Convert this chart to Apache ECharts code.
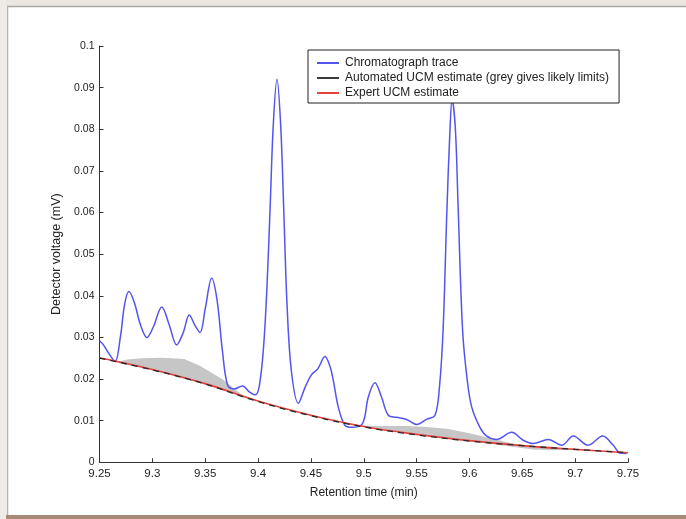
<!DOCTYPE html>
<html>
<head>
<meta charset="utf-8">
<script src="https://cdn.jsdelivr.net/npm/echarts@6/dist/echarts.min.js"></script>
<style>
html,body{margin:0;padding:0;background:#fff;}
#chart{width:686px;height:519px;}
</style>
</head>
<body>
<div id="chart"></div>
<script>
// ---- data ----
const seriesNames = ['Chromatograph trace', 'Automated UCM estimate (grey gives likely limits)', 'Expert UCM estimate'];
const xAxisTitle = 'Retention time (min)';
const yAxisTitle = 'Detector voltage (mV)';

// Chromatograph trace: [retention time, detector voltage]
const traceTime = [9.250,9.2537,9.2597,9.2647,9.2697,9.2738,9.2778,9.2828,9.2888,9.2949,9.3009,9.3089,9.3160,9.3230,9.3290,9.3350,9.3401,9.3451,9.3501,9.3561,9.3612,9.3662,9.3712,9.3772,9.3853,9.3923,9.3973,9.4013,9.4053,9.4084,9.4114,9.4144,9.4179,9.4214,9.4244,9.4274,9.4315,9.4381,9.4445,9.4505,9.4566,9.4633,9.4681,9.4711,9.4759,9.4821,9.4885,9.4988,9.5043,9.5106,9.5168,9.5232,9.5309,9.5406,9.5500,9.5594,9.5674,9.5716,9.5751,9.5786,9.5816,9.5836,9.5867,9.5892,9.5935,9.5978,9.6021,9.6099,9.6163,9.6257,9.6399,9.6509,9.6603,9.6746,9.6873,9.6982,9.7123,9.7260,9.7361,9.7424,9.7487];
const traceVolt = [0.0292,0.0282,0.0258,0.0242,0.0300,0.0380,0.0410,0.0385,0.0330,0.0300,0.0325,0.0373,0.0330,0.0282,0.0310,0.0354,0.0330,0.0312,0.0370,0.0442,0.0390,0.0270,0.0185,0.0176,0.0183,0.0168,0.0162,0.0185,0.0280,0.0420,0.0610,0.0810,0.0920,0.0810,0.0600,0.0380,0.0220,0.0142,0.0180,0.0210,0.0225,0.0254,0.0230,0.0198,0.0133,0.0089,0.0084,0.0093,0.0157,0.0191,0.0157,0.0113,0.0108,0.0103,0.0091,0.0103,0.0113,0.0180,0.0320,0.0600,0.0800,0.0872,0.0800,0.0620,0.0318,0.0200,0.0133,0.0084,0.0063,0.0055,0.0072,0.0053,0.0045,0.0055,0.0041,0.0063,0.0041,0.0063,0.0041,0.0022,0.0021];

// UCM estimates
const ucmTime = [9.25,9.30,9.35,9.40,9.45,9.50,9.55,9.60,9.65,9.70,9.75];
const automatedUCM = [0.0250,0.0222,0.0188,0.0146,0.0112,0.0085,0.0066,0.0051,0.0040,0.0031,0.0023];
const expertUCM    = [0.0251,0.0223,0.0189,0.0147,0.0113,0.0086,0.0067,0.0052,0.0040,0.0031,0.0023];

// grey likely-limit bands (upper edge, lower edge)
const band1Upper = [[9.2647,0.0240],[9.276,0.0247],[9.29,0.0250],[9.31,0.0251],[9.33,0.0248],[9.345,0.0232],[9.367,0.0198],[9.383,0.0166],[9.395,0.0149]];
const band1Lower = [[9.395,0.0149],[9.35,0.0187],[9.30,0.0221],[9.2647,0.0240]];
const band2Upper = [[9.48,0.0093],[9.50,0.0088],[9.52,0.0087],[9.54,0.0087],[9.56,0.0085],[9.58,0.0080],[9.60,0.0070],[9.62,0.0058],[9.64,0.0046],[9.66,0.0039],[9.70,0.0031]];
const band2Lower = [[9.70,0.0031],[9.68,0.0029],[9.66,0.0031],[9.63,0.0041],[9.60,0.0051],[9.55,0.0066],[9.50,0.0085],[9.48,0.0093]];

const xMin = 9.25, xMax = 9.75, xStep = 0.05;
const yMin = 0, yMax = 0.1, yStep = 0.01;

// ---- chart ----
const zip = (xs, ys) => xs.map((x, i) => [x, ys[i]]);
const chart = echarts.init(document.getElementById('chart'));
const font = 'Liberation Sans, Arial, sans-serif';

function bandItem(upper, lower) {
  return function (params, api) {
    const pts = upper.concat(lower).map(p => api.coord(p));
    return { type: 'polygon', shape: { points: pts }, style: { fill: '#c6c6c6' } };
  };
}

chart.setOption({
  animation: false,
  backgroundColor: '#ffffff',
  textStyle: { fontFamily: font },
  graphic: [
    { type: 'rect', shape: { x: 0, y: 0, width: 686, height: 6 }, style: { fill: '#ebe6df' }, z: 0 },
    { type: 'line', shape: { x1: 7, y1: 6.5, x2: 686, y2: 6.5 }, style: { stroke: '#a9a6a3', lineWidth: 1.5 }, z: 0 },
    { type: 'line', shape: { x1: 7.5, y1: 6, x2: 7.5, y2: 515 }, style: { stroke: '#b8b2ac', lineWidth: 1.5 }, z: 0 },
    { type: 'rect', shape: { x: 0, y: 515, width: 686, height: 4 }, style: { fill: '#a68c76' }, z: 0 },
    { type: 'rect', shape: { x: 0, y: 0, width: 6, height: 519 }, style: { fill: '#efebe6' }, z: 0 }
  ],
  grid: { left: 99.5, top: 46, width: 528.5, height: 416.3 },
  legend: {
    orient: 'vertical',
    left: 308, top: 50,
    data: seriesNames,
    backgroundColor: '#fff',
    borderColor: '#222', borderWidth: 1,
    padding: [7, 10, 4, 9],
    itemGap: 3,
    itemWidth: 22, itemHeight: 2,
    icon: 'rect',
    textStyle: { fontSize: 12, color: '#222', fontFamily: font, padding: [0, 0, 0, 1] }
  },
  xAxis: {
    type: 'value', min: xMin, max: xMax, interval: xStep,
    name: xAxisTitle, nameLocation: 'middle', nameGap: 24,
    nameTextStyle: { fontSize: 12, color: '#222', fontFamily: font },
    axisLine: { lineStyle: { color: '#333', width: 1 } },
    axisTick: { inside: true, length: 4, lineStyle: { color: '#333' } },
    axisLabel: { fontSize: 11.5, color: '#222', margin: 6, fontFamily: font },
    splitLine: { show: false }
  },
  yAxis: {
    type: 'value', min: yMin, max: yMax, interval: yStep,
    name: yAxisTitle, nameLocation: 'middle', nameGap: 33, nameRotate: 90,
    nameTextStyle: { fontSize: 12.5, color: '#222', fontFamily: font },
    axisLine: { show: true, lineStyle: { color: '#333', width: 1 } },
    axisTick: { show: true, inside: true, length: 4, lineStyle: { color: '#333' } },
    axisLabel: { fontSize: 10.5, color: '#222', margin: 5, fontFamily: font },
    splitLine: { show: false }
  },
  series: [
    { type: 'custom', name: 'band1', data: [[9.3, 0.02]], renderItem: bandItem(band1Upper, band1Lower), z: 1, silent: true },
    { type: 'custom', name: 'band2', data: [[9.55, 0.007]], renderItem: bandItem(band2Upper, band2Lower), z: 1, silent: true },
    {
      name: seriesNames[0], type: 'line', data: zip(traceTime, traceVolt),
      showSymbol: false, symbol: 'none', smooth: 0.35,
      lineStyle: { color: '#5454ee', width: 1.5 }, itemStyle: { color: '#5454ee' }, z: 3
    },
    {
      name: seriesNames[2], type: 'line', data: zip(ucmTime, expertUCM),
      showSymbol: false, symbol: 'none', smooth: 0.4,
      lineStyle: { color: '#e8413c', width: 1.6 }, itemStyle: { color: '#e8413c' }, z: 4
    },
    {
      name: seriesNames[1], type: 'line', data: zip(ucmTime, automatedUCM),
      showSymbol: false, symbol: 'none', smooth: 0.4,
      lineStyle: { color: '#2a2a2a', width: 1.3, type: [6, 5] }, itemStyle: { color: '#3a3a3a' }, z: 5
    }
  ]
});
</script>
</body>
</html>
